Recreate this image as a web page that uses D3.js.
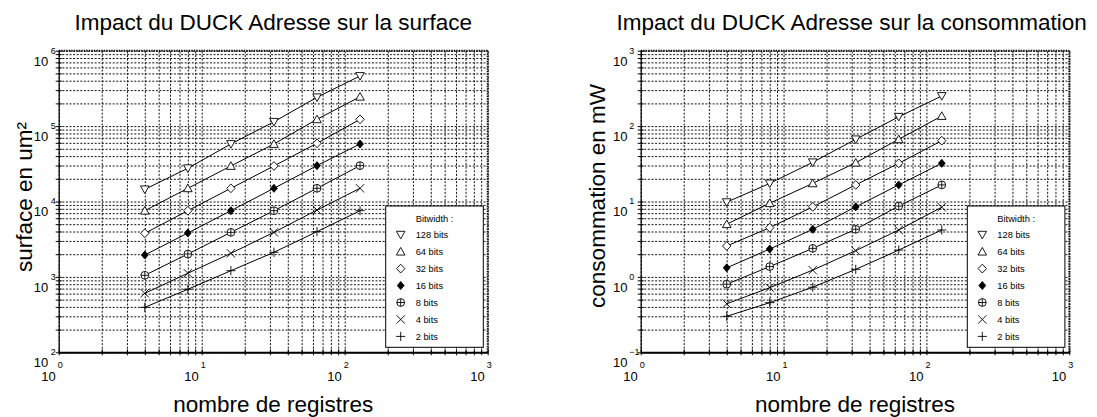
<!DOCTYPE html>
<html>
<head>
<meta charset="utf-8">
<script src="https://cdn.jsdelivr.net/npm/d3@7"></script>
<style>
  html, body { margin: 0; padding: 0; background: #fff; }
  svg { display: block; font-family: "Liberation Sans", Arial, Helvetica, sans-serif; }
</style>
</head>
<body>
<svg id="chart" width="1097" height="417"></svg>
<script>
// ---------------- data ----------------
const registres = [4, 8, 16, 32, 64, 128];
const bitwidths = ["128 bits", "64 bits", "32 bits", "16 bits", "8 bits", "4 bits", "2 bits"];
const markerTypes = ["tdown", "tup", "diamond", "diamondFill", "circlePlus", "times", "plus"];

// surface en um² (per bitwidth)
const surface128 = [14500, 27600, 57900, 114000, 241000, 462000];
const surface64  = [7550, 14960, 29600, 57900, 123000, 245000];
const surface32  = [3790, 7550, 14960, 29600, 59100, 123000];
const surface16  = [1950, 3820, 7550, 14960, 29900, 57900];
const surface8   = [1050, 2010, 3900, 7550, 14960, 29900];
const surface4   = [606, 1117, 2056, 3900, 7700, 14960];
const surface2   = [395, 685, 1208, 2120, 3980, 7550];

// consommation en mW (per bitwidth)
const conso128 = [9.8, 17.4, 33.1, 66.8, 133, 251];
const conso64  = [5.0, 9.5, 17.4, 32.7, 66.8, 136];
const conso32  = [2.57, 4.5, 8.5, 16.6, 32.1, 64];
const conso16  = [1.32, 2.34, 4.28, 8.5, 16.6, 32.1];
const conso8   = [0.80, 1.37, 2.39, 4.28, 8.7, 16.6];
const conso4   = [0.44, 0.72, 1.23, 2.23, 4.19, 8.4];
const conso2   = [0.30, 0.455, 0.73, 1.26, 2.27, 4.19];

// tick label exponents
const xTickExponents = [0, 1, 2, 3];
const surfaceTickExponents = [2, 3, 4, 5, 6];
const consoTickExponents = [-1, 0, 1, 2, 3];

const legendTitle = "Bitwidth :";

// ---------------- drawing ----------------
const svg = d3.select("#chart");

function markerPath(type) {
  switch (type) {
    case "tdown": return "M-4.3,-3.4L4.3,-3.4L0,4.2Z";
    case "tup": return "M-4.3,3.4L4.3,3.4L0,-4.2Z";
    case "diamond": return "M0,-4.4L4.2,0L0,4.4L-4.2,0Z";
    case "diamondFill": return "M0,-4L3.4,0L0,4L-3.4,0Z";
    case "circlePlus": return "M-3.9,0A3.9,3.9 0 1,0 3.9,0A3.9,3.9 0 1,0 -3.9,0Z M-3.9,0L3.9,0M0,-3.9L0,3.9";
    case "times": return "M-4.2,-4.2L4.2,4.2M-4.2,4.2L4.2,-4.2";
    case "plus": return "M-4.6,0L4.6,0M0,-4.6L0,4.6";
  }
}
function markerFill(type) {
  if (type === "diamondFill") return "#000";
  if (type === "times" || type === "plus") return "none";
  return "#fff";
}

function drawMarker(g, type, x, y) {
  g.append("path")
    .attr("transform", `translate(${x},${y})`)
    .attr("d", markerPath(type))
    .attr("fill", markerFill(type))
    .attr("stroke", "#000")
    .attr("stroke-width", 0.9);
}

function panel(cfg) {
  const x = d3.scaleLog().domain([1, 1000]).range([cfg.left, cfg.right]);
  const y = d3.scaleLog().domain(cfg.yDomain).range([cfg.bottom, cfg.top]);
  const g = svg.append("g");
  const h = cfg.bottom - cfg.top, w = cfg.right - cfg.left;

  // grid (dotted)
  const gx = g.append("g").attr("transform", `translate(0,${cfg.bottom})`)
    .call(d3.axisBottom(x).tickValues(x.ticks()).tickSize(-h).tickSizeOuter(0).tickFormat(""));
  gx.select(".domain").remove();
  gx.selectAll("line").attr("stroke", "#111").attr("stroke-width", 1).attr("stroke-dasharray", "2,1.6");
  const gy = g.append("g").attr("transform", `translate(${cfg.left},0)`)
    .call(d3.axisLeft(y).tickValues(y.ticks()).tickSize(-w).tickSizeOuter(0).tickFormat(""));
  gy.select(".domain").remove();
  gy.selectAll("line").attr("stroke", "#111").attr("stroke-width", 1).attr("stroke-dasharray", "2,1.6");

  // top and right borders (dotted, heavier)
  g.append("line").attr("x1", cfg.left).attr("x2", cfg.right).attr("y1", cfg.top).attr("y2", cfg.top)
    .attr("stroke", "#111").attr("stroke-width", 2).attr("stroke-dasharray", "1.5,1");
  g.append("line").attr("x1", cfg.right).attr("x2", cfg.right).attr("y1", cfg.top).attr("y2", cfg.bottom)
    .attr("stroke", "#111").attr("stroke-width", 2).attr("stroke-dasharray", "1.5,1");

  // axes (solid with crossing ticks)
  const ax = g.append("g").attr("transform", `translate(0,${cfg.bottom})`)
    .call(d3.axisBottom(x).tickValues(x.ticks()).tickSize(3).tickSizeOuter(0).tickFormat(""));
  ax.select(".domain").attr("stroke", "#000").attr("stroke-width", 2);
  ax.selectAll(".tick line").attr("y1", -3).attr("stroke", "#000").attr("stroke-width", 1);
  const ay = g.append("g").attr("transform", `translate(${cfg.left},0)`)
    .call(d3.axisLeft(y).tickValues(y.ticks()).tickSize(3).tickSizeOuter(0).tickFormat(""));
  ay.select(".domain").attr("stroke", "#000").attr("stroke-width", 1.2);
  ay.selectAll(".tick line").attr("x1", 3).attr("stroke", "#000").attr("stroke-width", 1);

  // x tick labels 10^n
  xTickExponents.forEach(e => {
    const px = x(Math.pow(10, e));
    g.append("text").attr("x", px - 3).attr("y", cfg.bottom + 28.5)
      .attr("text-anchor", "end").attr("font-size", 13).text("10");
    g.append("text").attr("x", px - 1).attr("y", cfg.bottom + 15.3)
      .attr("text-anchor", "start").attr("font-size", 9).text(String(e).replace("-", "\u2212"));
  });
  // y tick labels 10^n
  cfg.yExponents.forEach(e => {
    const py = y(Math.pow(10, e));
    g.append("text").attr("x", cfg.left - cfg.yLabOff).attr("y", py + 14.8)
      .attr("text-anchor", "end").attr("font-size", 13).text("10");
    g.append("text").attr("x", cfg.left - cfg.yExpOff).attr("y", py + 2.8)
      .attr("text-anchor", "start").attr("font-size", 9).text(String(e).replace("-", "\u2212"));
  });

  // series lines + markers
  const line = d3.line().x(d => x(d[0])).y(d => y(d[1]));
  cfg.series.forEach((vals, i) => {
    const pts = registres.map((r, j) => [r, vals[j]]);
    g.append("path").attr("d", line(pts)).attr("fill", "none").attr("stroke", "#000").attr("stroke-width", 1);
  });
  cfg.series.forEach((vals, i) => {
    registres.forEach((r, j) => drawMarker(g, markerTypes[i], x(r), y(vals[j])));
  });

  // title
  g.append("text").attr("x", cfg.titleX).attr("y", 29.5).attr("text-anchor", "middle")
    .attr("font-size", 22.5).text(cfg.title);
  // x label
  g.append("text").attr("x", (cfg.left + cfg.right) / 2).attr("y", 412).attr("text-anchor", "middle")
    .attr("font-size", 22.5).text("nombre de registres");
  // y label
  g.append("text").attr("transform", `translate(${cfg.yLabelX},${cfg.yLabelY}) rotate(-90)`)
    .attr("text-anchor", "middle").attr("font-size", 22.5).text(cfg.yLabel);

  // legend
  const lx = cfg.right - 4.4 - 97.6, ly = 206;
  const lg = g.append("g");
  lg.append("rect").attr("x", lx).attr("y", ly).attr("width", 97.6).attr("height", 141.3)
    .attr("fill", "#fff").attr("stroke", "#000").attr("stroke-width", 1);
  lg.append("text").attr("x", lx + 30).attr("y", ly + 15.7).attr("font-size", 9.3).text(legendTitle);
  bitwidths.forEach((b, i) => {
    const by = ly + 32.3 + i * 16.95;
    drawMarker(lg, markerTypes[i], lx + 15, by - 3.6);
    lg.append("text").attr("x", lx + 30).attr("y", by).attr("font-size", 9.3).text(b);
  });
}

panel({
  left: 58.7, right: 487.7, top: 50.7, bottom: 352.3,
  yDomain: [1e2, 1e6], yExponents: surfaceTickExponents,
  yLabOff: 10.5, yExpOff: 8,
  series: [surface128, surface64, surface32, surface16, surface8, surface4, surface2],
  title: "Impact du DUCK Adresse sur la surface", titleX: 273.3,
  yLabel: "surface en um\u00B2", yLabelX: 31.5, yLabelY: 197
});
panel({
  left: 640.7, right: 1069.3, top: 50.7, bottom: 352.3,
  yDomain: [1e-1, 1e3], yExponents: consoTickExponents,
  yLabOff: 13.3, yExpOff: 11.5,
  series: [conso128, conso64, conso32, conso16, conso8, conso4, conso2],
  title: "Impact du DUCK Adresse sur la consommation", titleX: 851.7,
  yLabel: "consommation en mW", yLabelX: 605, yLabelY: 196
});
</script>
</body>
</html>
